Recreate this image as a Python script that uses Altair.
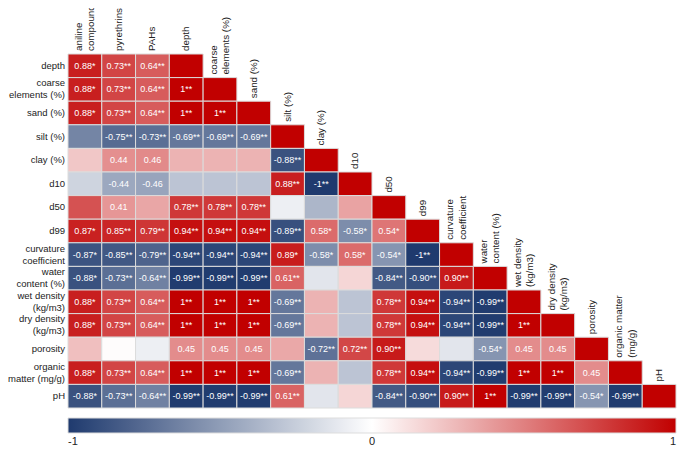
import altair as alt
import pandas as pd

row_ids = ["depth", "coarse", "sand", "silt", "clay", "d10", "d50", "d99",
           "curv", "water", "wet", "dry", "poro", "org", "ph"]
col_ids = ["aniline", "pyr", "pahs"] + row_ids

row_names = ["depth", "coarse\nelements (%)", "sand (%)", "silt (%)", "clay (%)",
             "d10", "d50", "d99", "curvature\ncoefficient", "water\ncontent (%)",
             "wet density\n(kg/m3)", "dry density\n(kg/m3)", "porosity",
             "organic\nmatter (mg/g)", "pH"]
col_names = ["aniline\ncompounds", "pyrethrins", "PAHs", "depth",
             "coarse\nelements (%)", "sand (%)", "silt (%)", "clay (%)", "d10",
             "d50", "d99", "curvature\ncoefficient", "water\ncontent (%)",
             "wet density\n(kg/m3)", "dry density\n(kg/m3)", "porosity",
             "organic matter\n(mg/g)", "pH"]

vals = [
    [0.88, 0.73, 0.64],
    [0.88, 0.73, 0.64, 1.0],
    [0.88, 0.73, 0.64, 1.0, 1.0],
    [-0.62, -0.75, -0.73, -0.69, -0.69, -0.69],
    [0.22, 0.44, 0.46, 0.30, 0.30, 0.30, -0.88],
    [-0.22, -0.44, -0.46, -0.30, -0.30, -0.30, 0.88, -1.0],
    [0.68, 0.41, 0.35, 0.78, 0.78, 0.78, -0.08, -0.37, 0.36],
    [0.87, 0.85, 0.79, 0.94, 0.94, 0.94, -0.89, 0.58, -0.58, 0.54],
    [-0.87, -0.85, -0.79, -0.94, -0.94, -0.94, 0.89, -0.58, 0.58, -0.54, -1.0],
    [-0.88, -0.73, -0.64, -0.99, -0.99, -0.99, 0.61, -0.13, 0.16, -0.84, -0.90, 0.90],
    [0.88, 0.73, 0.64, 1.0, 1.0, 1.0, -0.69, 0.30, -0.30, 0.78, 0.94, -0.94, -0.99],
    [0.88, 0.73, 0.64, 1.0, 1.0, 1.0, -0.69, 0.30, -0.30, 0.78, 0.94, -0.94, -0.99, 1.0],
    [0.25, 0.01, -0.08, 0.45, 0.45, 0.45, 0.34, -0.72, 0.72, 0.90, 0.14, -0.13, -0.54, 0.45, 0.45],
    [0.88, 0.73, 0.64, 1.0, 1.0, 1.0, -0.69, 0.30, -0.30, 0.78, 0.94, -0.94, -0.99, 1.0, 1.0, 0.45],
    [-0.88, -0.73, -0.64, -0.99, -0.99, -0.99, 0.61, -0.13, 0.16, -0.84, -0.90, 0.90, 1.0, -0.99, -0.99, -0.54, -0.99],
]

labs = [
    ["0.88*", "0.73**", "0.64**"],
    ["0.88*", "0.73**", "0.64**", "1**"],
    ["0.88*", "0.73**", "0.64**", "1**", "1**"],
    ["", "-0.75**", "-0.73**", "-0.69**", "-0.69**", "-0.69**"],
    ["", "0.44", "0.46", "", "", "", "-0.88**"],
    ["", "-0.44", "-0.46", "", "", "", "0.88**", "-1**"],
    ["", "0.41", "", "0.78**", "0.78**", "0.78**", "", "", ""],
    ["0.87*", "0.85**", "0.79**", "0.94**", "0.94**", "0.94**", "-0.89**", "0.58*", "-0.58*", "0.54*"],
    ["-0.87*", "-0.85**", "-0.79**", "-0.94**", "-0.94**", "-0.94**", "0.89*", "-0.58*", "0.58*", "-0.54*", "-1**"],
    ["-0.88*", "-0.73**", "-0.64**", "-0.99**", "-0.99**", "-0.99**", "0.61**", "", "", "-0.84**", "-0.90**", "0.90**"],
    ["0.88*", "0.73**", "0.64**", "1**", "1**", "1**", "-0.69**", "", "", "0.78**", "0.94**", "-0.94**", "-0.99**"],
    ["0.88*", "0.73**", "0.64**", "1**", "1**", "1**", "-0.69**", "", "", "0.78**", "0.94**", "-0.94**", "-0.99**", "1**"],
    ["", "", "", "0.45", "0.45", "0.45", "", "-0.72**", "0.72**", "0.90**", "", "", "-0.54*", "0.45", "0.45"],
    ["0.88*", "0.73**", "0.64**", "1**", "1**", "1**", "-0.69**", "", "", "0.78**", "0.94**", "-0.94**", "-0.99**", "1**", "1**", "0.45"],
    ["-0.88*", "-0.73**", "-0.64**", "-0.99**", "-0.99**", "-0.99**", "0.61**", "", "", "-0.84**", "-0.90**", "0.90**", "1**", "-0.99**", "-0.99**", "-0.54*", "-0.99**"],
]

records = []
for i, r in enumerate(row_ids):
    for j, v in enumerate(vals[i]):
        records.append({"row": r, "col": col_ids[j], "r": v, "lab": labs[i][j]})
    records.append({"row": r, "col": col_ids[i + 3], "r": 1.0, "lab": ""})
cells = pd.DataFrame(records)

rowlab = pd.DataFrame({"row": row_ids, "name": row_names,
                       "multi": ["\n" in n for n in row_names]})
collab = pd.DataFrame({"col": col_ids,
                       "anchor": [row_ids[max(0, j - 3)] for j in range(len(col_ids))],
                       "name": col_names,
                       "multi": ["\n" in n for n in col_names]})

W, H = 608, 354
xs = alt.Scale(domain=col_ids, paddingInner=0, paddingOuter=0)
ys = alt.Scale(domain=row_ids, paddingInner=0, paddingOuter=0)
X = alt.X("col:N", scale=xs, axis=None)
Y = alt.Y("row:N", scale=ys, axis=None)

color = alt.Color(
    "r:Q",
    scale=alt.Scale(domain=[-1, 0, 1], range=["#1f3a6e", "#ffffff", "#c10000"], interpolate="rgb"),
    legend=alt.Legend(orient="none", direction="horizontal", legendX=0, legendY=364,
                      gradientLength=W, gradientThickness=15, values=[-1, 0, 1],
                      labelExpr="'' + datum.value",
                      title=None, labelFontSize=11, labelOffset=3, labelColor="#222222",
                      gradientStrokeColor="#dddddd", gradientStrokeWidth=1, padding=0),
)

RFS = 9.5
CFS = 9.8
rect = alt.Chart(cells).mark_rect(stroke="#dcdcdc", strokeWidth=1).encode(x=X, y=Y, color=color)
txt = (alt.Chart(cells).transform_filter("datum.lab != ''")
       .mark_text(color="white", fontSize=9)
       .encode(x=X, y=Y, text="lab:N"))


def row_layer(multi, dy):
    return (alt.Chart(rowlab).transform_filter(f"datum.multi == {str(multi).lower()}")
            .mark_text(align="right", baseline="middle", fontSize=RFS, lineBreak="\n",
                       lineHeight=12, color="#222222", dy=dy)
            .encode(x=alt.value(-3), y=alt.Y("row:N", scale=ys, axis=None), text="name:N"))


def col_layer(multi, dy):
    return (alt.Chart(collab).transform_filter(f"datum.multi == {str(multi).lower()}")
            .mark_text(angle=270, align="left", baseline="middle", fontSize=CFS, lineBreak="\n",
                       lineHeight=12.5, dx=3, dy=dy, color="#222222")
            .encode(x=alt.X("col:N", scale=xs, axis=None),
                    y=alt.Y("anchor:N", scale=ys, axis=None, bandPosition=0),
                    text="name:N"))


chart = (alt.layer(rect, txt, row_layer(False, 0), row_layer(True, -6),
                   col_layer(False, 0), col_layer(True, -6.25))
         .properties(width=W, height=H, autosize=alt.AutoSizeParams(type="none"),
                     padding={"left": 60, "top": 46, "right": 1, "bottom": 40})
         .configure(font="Liberation Sans")
         .configure_view(stroke=None))

chart.save("out.html", embed_options={"renderer": "svg", "actions": False})
